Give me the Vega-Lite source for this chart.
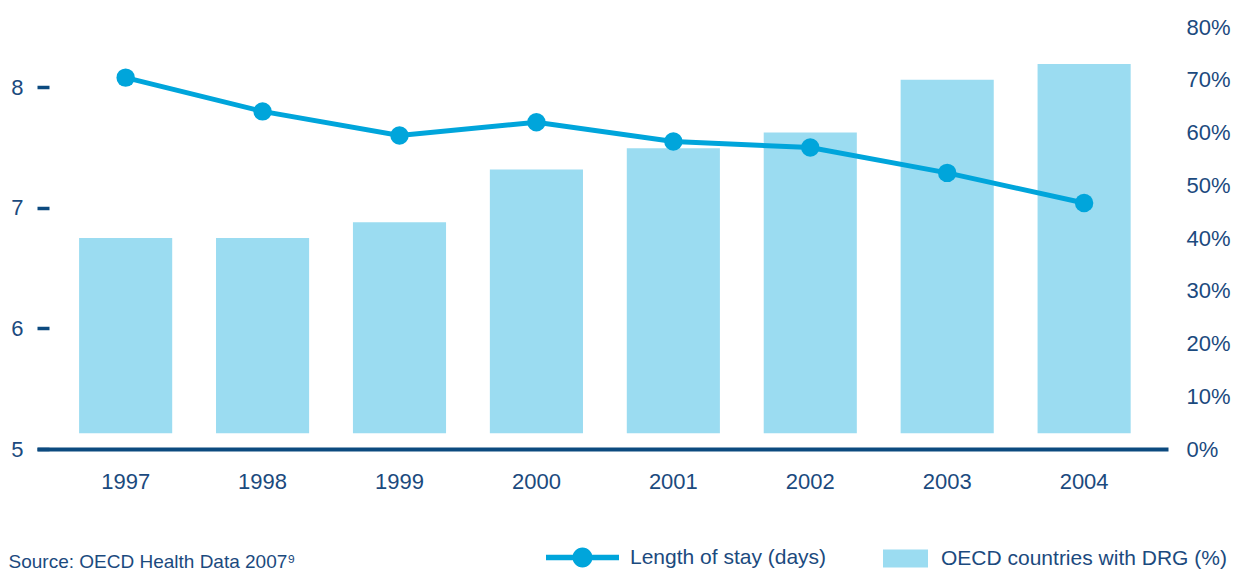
{
  "$schema": "https://vega.github.io/schema/vega-lite/v6.json",
  "description": "Length of stay vs. OECD countries with DRG, 1997-2004",
  "width": 1131,
  "height": 422,
  "autosize": {"type": "none"},
  "padding": {"left": 37, "top": 27, "right": 72, "bottom": 121},
  "background": "white",
  "config": {
    "view": {"stroke": null},
    "font": "Liberation Sans",
    "axis": {
      "labelFont": "Liberation Sans",
      "labelColor": "#1b4a7e",
      "labelFontSize": 22,
      "grid": false
    },
    "legend": {
      "labelFont": "Liberation Sans",
      "labelColor": "#1b4a7e",
      "labelFontSize": 21,
      "labelLimit": 400,
      "padding": 0,
      "offset": 0
    }
  },
  "data": {
    "values": [
      {"year": "1997", "drg": 40, "los": 8.08},
      {"year": "1998", "drg": 40, "los": 7.80},
      {"year": "1999", "drg": 43, "los": 7.60},
      {"year": "2000", "drg": 53, "los": 7.71},
      {"year": "2001", "drg": 57, "los": 7.55},
      {"year": "2002", "drg": 60, "los": 7.50},
      {"year": "2003", "drg": 70, "los": 7.29},
      {"year": "2004", "drg": 73, "los": 7.04}
    ]
  },
  "encoding": {
    "x": {
      "field": "year",
      "type": "ordinal",
      "scale": {"paddingInner": 0.32, "paddingOuter": 0.29, "align": 0.53},
      "axis": {
        "labelAngle": 0,
        "labelPadding": 22,
        "ticks": false,
        "domain": true,
        "domainColor": "#0c4a7f",
        "domainWidth": 4,
        "title": "Source: OECD Health Data 2007⁹",
        "titleFont": "Liberation Sans",
        "titleFontSize": 19,
        "titleFontWeight": "normal",
        "titleColor": "#1b4a7e",
        "titleAlign": "left",
        "titleBaseline": "alphabetic",
        "titleX": -29,
        "titleY": 118
      }
    }
  },
  "layer": [
    {
      "mark": {"type": "bar"},
      "encoding": {
        "y": {
          "field": "drg",
          "type": "quantitative",
          "scale": {"domain": [0, 80], "nice": false},
          "axis": {
            "orient": "right",
            "title": null,
            "values": [0, 10, 20, 30, 40, 50, 60, 70, 80],
            "labelExpr": "datum.value + '%'",
            "domain": false,
            "ticks": false,
            "labelPadding": 18
          }
        },
        "y2": {"datum": 3},
        "fill": {
          "datum": "OECD countries with DRG (%)",
          "scale": {"range": ["#9bdcf1"]},
          "legend": {
            "title": null,
            "orient": "none",
            "legendX": 858,
            "legendY": 521,
            "symbolType": "M-2.25,-0.9H2.25V0.9H-2.25Z",
            "symbolSize": 400,
            "symbolStrokeWidth": 0,
            "labelOffset": 25
          }
        }
      }
    },
    {
      "mark": {
        "type": "line",
        "strokeWidth": 5,
        "point": {"filled": true, "size": 340, "fill": "#00a5db", "strokeWidth": 0, "opacity": 1}
      },
      "encoding": {
        "y": {
          "field": "los",
          "type": "quantitative",
          "scale": {"domain": [5, 8.5], "nice": false},
          "axis": {
            "orient": "left",
            "title": null,
            "values": [5, 6, 7, 8],
            "domain": false,
            "ticks": true,
            "tickColor": "#0c4a7f",
            "tickWidth": 3.5,
            "tickSize": -12,
            "labelPadding": 26
          }
        },
        "stroke": {
          "datum": "Length of stay (days)",
          "scale": {"range": ["#00a5db"]},
          "legend": {
            "title": null,
            "orient": "none",
            "legendX": 535,
            "legendY": 520,
            "symbolType": "M-3.65,-0.27H3.65V0.27H-3.65Z M-1,0A1,1 0 1,1 1,0A1,1 0 1,1 -1,0Z",
            "symbolSize": 400,
            "symbolStrokeWidth": 0,
            "labelOffset": 37,
            "encode": {
              "symbols": {
                "update": {
                  "fill": {"value": "#00a5db"},
                  "strokeWidth": {"value": 0}
                }
              }
            }
          }
        }
      }
    }
  ],
  "resolve": {"scale": {"y": "independent"}}
}
